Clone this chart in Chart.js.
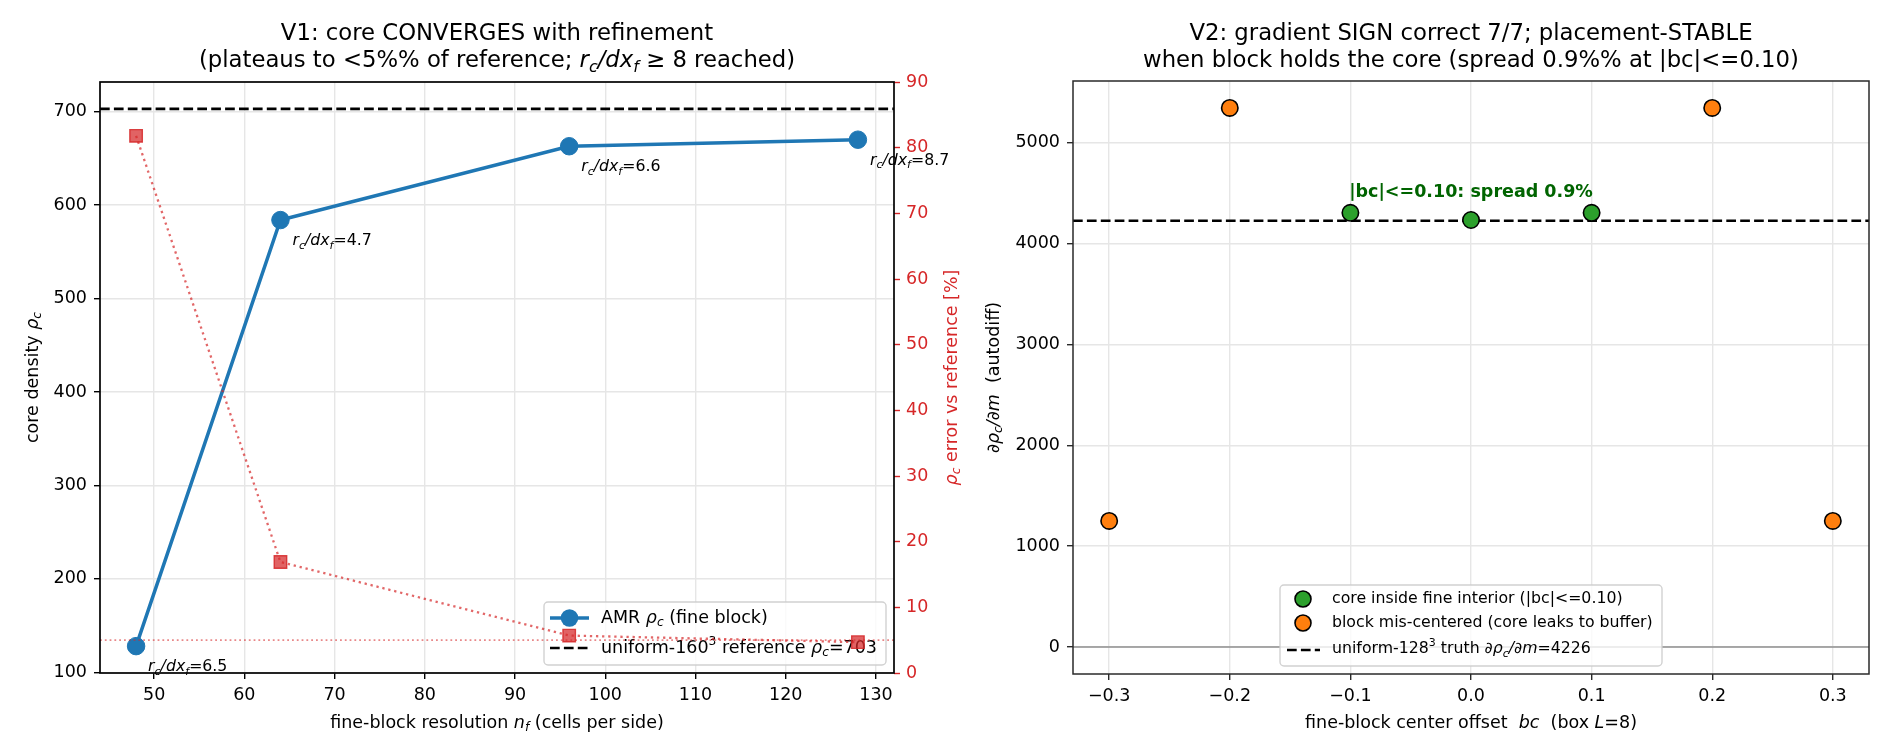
<!DOCTYPE html>
<html><head><meta charset="utf-8">
<script src="https://cdn.jsdelivr.net/npm/chart.js@4.4.1/dist/chart.umd.min.js"></script>
<style>
html,body{margin:0;padding:0;background:#fff;}
#wrap{position:relative;width:1890px;height:756px;background:#fff;}
canvas{position:absolute;left:0;top:0;}
</style></head><body>
<div id="wrap"><canvas id="c1" width="1890" height="756"></canvas><canvas id="c2" width="1890" height="756"></canvas></div>
<script>
// ---------- data: V1 (left) ----------
const NF = [48, 64, 96, 128];
const RHO_C = [128, 584, 663, 670];
const ERR_PCT = [81.8, 16.9, 5.7, 4.7];
const RC_DX = ['6.5', '4.7', '6.6', '8.7'];
const RHO_REF = 703;
const ERR_TOL = 5;
const X1_TICKS = [50, 60, 70, 80, 90, 100, 110, 120, 130];
const Y1_TICKS = [100, 200, 300, 400, 500, 600, 700];
const Y2_TICKS = [0, 10, 20, 30, 40, 50, 60, 70, 80, 90];
// ---------- data: V2 (right) ----------
const BC_IN = [-0.1, 0.0, 0.1];
const DG_IN = [4305, 4234, 4305];
const BC_OUT = [-0.3, -0.2, 0.2, 0.3];
const DG_OUT = [1250, 5345, 5345, 1250];
const DG_TRUTH = 4226;
const X2_TICKS = [-0.3, -0.2, -0.1, 0.0, 0.1, 0.2, 0.3];
const Y3_TICKS = [0, 1000, 2000, 3000, 4000, 5000];

const FF = '"DejaVu Sans", sans-serif';
Chart.defaults.font.family = FF;
const RED = '#d62728';
const TICK_FS = 17.5;
const TITLE_FS = 22.75;

function padRange(vals, frac) {
  const mn = Math.min(...vals), mx = Math.max(...vals), d = (mx - mn) * frac;
  return [mn - d, mx + d];
}
function fontStr(size, f) {
  return (f.includes('i') ? 'italic ' : '') + (f.includes('b') ? 'bold ' : '') + size + 'px ' + FF;
}
function segSize(size, f) { return (f.includes('_') || f.includes('^')) ? size * 0.7 : size; }
function richWidth(ctx, segs, size) {
  let w = 0;
  for (const [t, f = ''] of segs) { ctx.font = fontStr(segSize(size, f), f); w += ctx.measureText(t).width; }
  return w;
}
function drawRich(ctx, segs, x, y, size, color, align) {
  const w = richWidth(ctx, segs, size);
  let cx = align === 'center' ? x - w / 2 : (align === 'right' ? x - w : x);
  ctx.save();
  ctx.fillStyle = color; ctx.textBaseline = 'middle'; ctx.textAlign = 'left';
  for (const [t, f = ''] of segs) {
    let dy = 0;
    if (f.includes('_')) dy = size * 0.3;
    else if (f.includes('^')) dy = -size * 0.38;
    const s = segSize(size, f);
    ctx.font = fontStr(s, f);
    ctx.fillText(t, cx, y + dy);
    cx += ctx.measureText(t).width;
  }
  ctx.restore();
}
function drawRotRich(ctx, segs, x, y, size, color) {
  ctx.save(); ctx.translate(x, y); ctx.rotate(-Math.PI / 2);
  drawRich(ctx, segs, 0, 0, size, color, 'center');
  ctx.restore();
}
function hline(ctx, a, py, color, width, dash) {
  ctx.save(); ctx.strokeStyle = color; ctx.lineWidth = width; ctx.setLineDash(dash);
  ctx.beginPath(); ctx.moveTo(a.left, py); ctx.lineTo(a.right, py); ctx.stroke(); ctx.restore();
}
function box(ctx, a, color, width) {
  ctx.save(); ctx.strokeStyle = color; ctx.lineWidth = width;
  ctx.strokeRect(a.left, a.top, a.right - a.left, a.bottom - a.top); ctx.restore();
}
function legendBox(ctx, x0, y0, x1, y1) {
  ctx.save();
  ctx.fillStyle = 'rgba(255,255,255,0.8)'; ctx.strokeStyle = 'rgba(204,204,204,0.9)'; ctx.lineWidth = 1.4;
  ctx.beginPath(); ctx.roundRect(x0, y0, x1 - x0, y1 - y0, 4); ctx.fill(); ctx.stroke(); ctx.restore();
}
function lineHandle(ctx, x0, x1, y, color, width, dash) {
  ctx.save(); ctx.strokeStyle = color; ctx.lineWidth = width; ctx.setLineDash(dash);
  ctx.beginPath(); ctx.moveTo(x0, y); ctx.lineTo(x1, y); ctx.stroke(); ctx.restore();
}
function dot(ctx, x, y, r, fill, stroke, lw) {
  ctx.save(); ctx.fillStyle = fill; ctx.beginPath(); ctx.arc(x, y, r, 0, Math.PI * 2); ctx.fill();
  if (stroke) { ctx.strokeStyle = stroke; ctx.lineWidth = lw; ctx.stroke(); }
  ctx.restore();
}
function fixedTicks(list) { return s => { s.ticks = list.map(v => ({ value: v })); }; }

// ================= LEFT CHART =================
const [x1min, x1max] = padRange(NF, 0.05);
const [y1min, y1max] = padRange([...RHO_C, RHO_REF], 0.05);

const leftPlugin = {
  id: 'leftDeco',
  beforeDatasetsDraw(chart) {
    const { ctx, chartArea: a, scales } = chart;
    hline(ctx, a, scales.y.getPixelForValue(RHO_REF), '#000', 2.6, [9.7, 4.2]);
  },
  beforeDatasetDraw(chart, args) {
    if (args.index !== 1) return;
    const { ctx, chartArea: a, scales } = chart;
    // legend of primary axes (drawn below the twin-axis series)
    const lx0 = a.right - 8 - 342, ly1 = a.bottom - 8, ly0 = ly1 - 63;
    legendBox(ctx, lx0, ly0, a.right - 8, ly1);
    const hx0 = lx0 + 6, hx1 = lx0 + 45, tx = lx0 + 57;
    const r1 = ly0 + 16, r2 = ly0 + 46;
    lineHandle(ctx, hx0, hx1, r1, '#1f77b4', 3.5, []);
    dot(ctx, (hx0 + hx1) / 2, r1, 8.75, '#1f77b4');
    drawRich(ctx, [['AMR '], ['ρ', 'i'], ['c', 'i_'], [' (fine block)']], tx, r1, 17.5, '#000', 'left');
    lineHandle(ctx, hx0, hx1, r2, '#000', 2.6, [9.7, 4.2]);
    drawRich(ctx, [['uniform-160'], ['3', '^'], [' reference '], ['ρ', 'i'], ['c', 'i_'], ['=703']], tx, r2, 17.5, '#000', 'left');
    // 5% tolerance line on twin axis
    hline(ctx, a, scales.y2.getPixelForValue(ERR_TOL), 'rgba(214,39,40,0.55)', 1.6, [1.8, 3.0]);
  },
  afterDatasetsDraw(chart) {
    const { ctx, chartArea: a } = chart;
    box(ctx, a, '#000', 1.7);
    const meta = chart.getDatasetMeta(0);
    meta.data.forEach((p, i) => {
      drawRich(ctx, [['r', 'i'], ['c', 'i_'], ['/dx', 'i'], ['f', 'i_'], ['=' + RC_DX[i]]], p.x + 12, p.y + 21, 15.75, '#000', 'left');
    });
  },
  afterDraw(chart) {
    const { ctx, chartArea: a } = chart;
    const cx = (a.left + a.right) / 2, cy = (a.top + a.bottom) / 2;
    ctx.save(); ctx.fillStyle = '#000'; ctx.textAlign = 'center'; ctx.textBaseline = 'middle';
    ctx.font = TITLE_FS + 'px ' + FF;
    ctx.fillText('V1: core CONVERGES with refinement', cx, 34);
    ctx.restore();
    drawRich(ctx, [['(plateaus to <5%% of reference; '], ['r', 'i'], ['c', 'i_'], ['/dx', 'i'], ['f', 'i_'], [' ≥ 8 reached)']], cx, 61, TITLE_FS, '#000', 'center');
    drawRich(ctx, [['fine-block resolution '], ['n', 'i'], ['f', 'i_'], [' (cells per side)']], cx, 723, 17.5, '#000', 'center');
    drawRotRich(ctx, [['core density '], ['ρ', 'i'], ['c', 'i_']], 33, cy, 17.5, '#000');
    drawRotRich(ctx, [['ρ', 'i'], ['c', 'i_'], [' error vs reference [%]']], 952, cy, 17.5, RED);
  }
};

new Chart(document.getElementById('c1'), {
  type: 'scatter',
  data: {
    datasets: [
      {
        label: 'AMR rho_c (fine block)',
        data: NF.map((x, i) => ({ x, y: RHO_C[i] })),
        showLine: true, yAxisID: 'y', order: 2,
        borderColor: '#1f77b4', backgroundColor: '#1f77b4', borderWidth: 3.5,
        pointRadius: 8.75, pointBorderWidth: 1, pointBorderColor: '#1f77b4', pointBackgroundColor: '#1f77b4',
        clip: false
      },
      {
        label: 'rho_c error vs reference [%]',
        data: NF.map((x, i) => ({ x, y: ERR_PCT[i] })),
        showLine: true, yAxisID: 'y2', order: 1,
        borderColor: 'rgba(214,39,40,0.7)', borderWidth: 2.3, borderDash: [2.3, 3.8],
        pointStyle: 'rect', pointRadius: 8.8,
        pointBackgroundColor: 'rgba(214,39,40,0.72)', pointBorderColor: 'rgba(214,39,40,0.85)', pointBorderWidth: 1.4,
        clip: false
      }
    ]
  },
  options: {
    responsive: false, animation: false, devicePixelRatio: 1,
    layout: { padding: { top: 82, left: 0, right: 945, bottom: 0 } },
    plugins: { legend: { display: false }, tooltip: { enabled: false }, title: { display: false } },
    scales: {
      x: {
        type: 'linear', min: x1min, max: x1max,
        afterBuildTicks: fixedTicks(X1_TICKS),
        afterFit: s => { s.height = 83; },
        border: { display: false },
        grid: { color: '#e6e6e6', lineWidth: 1.4, tickColor: '#000', tickLength: 6, tickWidth: 1.4 },
        ticks: { color: '#000', font: { size: TICK_FS }, padding: 6, maxRotation: 0, callback: v => String(v) }
      },
      y: {
        type: 'linear', position: 'left', min: y1min, max: y1max,
        afterBuildTicks: fixedTicks(Y1_TICKS),
        afterFit: s => { s.width = 100; },
        border: { display: false },
        grid: { color: '#e6e6e6', lineWidth: 1.4, tickColor: '#000', tickLength: 6, tickWidth: 1.4 },
        ticks: { color: '#000', font: { size: TICK_FS }, padding: 7, callback: v => String(v) }
      },
      y2: {
        type: 'linear', position: 'right', min: 0, max: 90,
        afterBuildTicks: fixedTicks(Y2_TICKS),
        afterFit: s => { s.width = 51; },
        border: { display: false },
        grid: { drawOnChartArea: false, tickColor: RED, tickLength: 6, tickWidth: 1.4 },
        ticks: { color: RED, font: { size: TICK_FS }, padding: 6, callback: v => String(v) }
      }
    }
  },
  plugins: [leftPlugin]
});

// ================= RIGHT CHART =================
const [x2min, x2max] = padRange([...BC_IN, ...BC_OUT], 0.05);
const [y3min, y3max] = padRange([...DG_IN, ...DG_OUT, 0], 0.05);
const SPREAD_LABEL_Y = 4512;

const rightPlugin = {
  id: 'rightDeco',
  beforeDatasetsDraw(chart) {
    const { ctx, chartArea: a, scales } = chart;
    hline(ctx, a, scales.y.getPixelForValue(0), 'rgba(128,128,128,0.85)', 1.6, []);
    hline(ctx, a, scales.y.getPixelForValue(DG_TRUTH), '#000', 2.6, [9.7, 4.2]);
  },
  afterDatasetsDraw(chart) {
    const { ctx, chartArea: a, scales } = chart;
    box(ctx, a, '#2a2a2a', 1.5);
    ctx.save(); ctx.fillStyle = '#006400'; ctx.font = 'bold 17.5px ' + FF;
    ctx.textAlign = 'center'; ctx.textBaseline = 'middle';
    ctx.fillText('|bc|<=0.10: spread 0.9%', scales.x.getPixelForValue(0), scales.y.getPixelForValue(SPREAD_LABEL_Y));
    ctx.restore();
    // legend (lower center)
    const cx = (a.left + a.right) / 2;
    const lx0 = cx - 191, lx1 = cx + 191, ly1 = a.bottom - 8, ly0 = ly1 - 81;
    legendBox(ctx, lx0, ly0, lx1, ly1);
    const hx = lx0 + 23, tx = lx0 + 52;
    const r1 = ly0 + 14, r2 = ly0 + 38, r3 = ly0 + 64;
    dot(ctx, hx, r1, 8, '#2ca02c', '#000', 1.6);
    drawRich(ctx, [['core inside fine interior (|bc|<=0.10)']], tx, r1, 15.75, '#000', 'left');
    dot(ctx, hx, r2, 8, '#ff7f0e', '#000', 1.6);
    drawRich(ctx, [['block mis-centered (core leaks to buffer)']], tx, r2, 15.75, '#000', 'left');
    lineHandle(ctx, lx0 + 7, lx0 + 40, r3 + 1, '#000', 2.6, [9.7, 4.2]);
    drawRich(ctx, [['uniform-128'], ['3', '^'], [' truth '], ['∂', 'i'], ['ρ', 'i'], ['c', 'i_'], ['/∂', 'i'], ['m', 'i'], ['=4226']], tx, r3, 15.75, '#000', 'left');
  },
  afterDraw(chart) {
    const { ctx, chartArea: a } = chart;
    const cx = (a.left + a.right) / 2, cy = (a.top + a.bottom) / 2;
    ctx.save(); ctx.fillStyle = '#000'; ctx.textAlign = 'center'; ctx.textBaseline = 'middle';
    ctx.font = TITLE_FS + 'px ' + FF;
    ctx.fillText('V2: gradient SIGN correct 7/7; placement-STABLE', cx, 34);
    ctx.fillText('when block holds the core (spread 0.9%% at |bc|<=0.10)', cx, 61);
    ctx.restore();
    drawRich(ctx, [['fine-block center offset  '], ['bc', 'i'], ['  (box '], ['L', 'i'], ['=8)']], cx, 723, 17.5, '#000', 'center');
    drawRotRich(ctx, [['∂', 'i'], ['ρ', 'i'], ['c', 'i_'], ['/∂', 'i'], ['m', 'i'], ['  (autodiff)']], 994, cy, 17.5, '#000');
  }
};

new Chart(document.getElementById('c2'), {
  type: 'scatter',
  data: {
    datasets: [
      {
        label: 'core inside fine interior (|bc|<=0.10)',
        data: BC_IN.map((x, i) => ({ x, y: DG_IN[i] })),
        pointRadius: 8.2, pointBackgroundColor: '#2ca02c', pointBorderColor: '#000', pointBorderWidth: 1.6
      },
      {
        label: 'block mis-centered (core leaks to buffer)',
        data: BC_OUT.map((x, i) => ({ x, y: DG_OUT[i] })),
        pointRadius: 8.2, pointBackgroundColor: '#ff7f0e', pointBorderColor: '#000', pointBorderWidth: 1.6
      }
    ]
  },
  options: {
    responsive: false, animation: false, devicePixelRatio: 1,
    layout: { padding: { top: 81, left: 945, right: 21, bottom: 0 } },
    plugins: { legend: { display: false }, tooltip: { enabled: false }, title: { display: false } },
    scales: {
      x: {
        type: 'linear', min: x2min, max: x2max,
        afterBuildTicks: fixedTicks(X2_TICKS),
        afterFit: s => { s.height = 82; },
        border: { display: false },
        grid: { color: '#e6e6e6', lineWidth: 1.4, tickColor: '#2a2a2a', tickLength: 6, tickWidth: 1.4 },
        ticks: { color: '#000', font: { size: TICK_FS }, padding: 6, maxRotation: 0,
          callback: v => (v < -1e-9 ? '\u2212' : '') + Math.abs(v).toFixed(1) }
      },
      y: {
        type: 'linear', position: 'left', min: y3min, max: y3max,
        afterBuildTicks: fixedTicks(Y3_TICKS),
        afterFit: s => { s.width = 128; },
        border: { display: false },
        grid: { color: '#e6e6e6', lineWidth: 1.4, tickColor: '#2a2a2a', tickLength: 6, tickWidth: 1.4 },
        ticks: { color: '#000', font: { size: TICK_FS }, padding: 7, callback: v => String(v) }
      }
    }
  },
  plugins: [rightPlugin]
});
</script>
</body></html>
